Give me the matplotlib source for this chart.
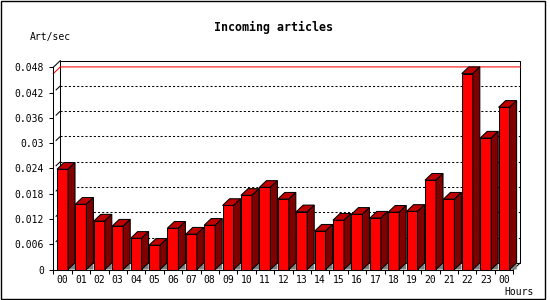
import numpy as np
import matplotlib
matplotlib.use("Agg")
import matplotlib.pyplot as plt
from matplotlib.patches import Polygon, Rectangle

# data
hours = ["00", "01", "02", "03", "04", "05", "06", "07", "08", "09", "10", "11",
         "12", "13", "14", "15", "16", "17", "18", "19", "20", "21", "22", "23", "00"]
rate = [0.0238, 0.0155, 0.0115, 0.0103, 0.0074, 0.00575, 0.0098, 0.0084, 0.0105,
        0.0152, 0.0176, 0.0195, 0.0167, 0.0137, 0.0091, 0.0117, 0.0131, 0.0122,
        0.0136, 0.0138, 0.0212, 0.0167, 0.0465, 0.0312, 0.0385]
yticks = [0, 0.006, 0.012, 0.018, 0.024, 0.03, 0.036, 0.042, 0.048]
ytick_labels = ["0", "0.006", "0.012", "0.018", "0.024", "0.03", "0.036", "0.042", "0.048"]

plt.rcParams["font.family"] = ["DejaVu Sans Mono"]
LW = 0.75
FRONT, TOP, SIDE, FLOOR = "#ff0000", "#c00000", "#800000", "#808080"

W, H = 550, 300
fig = plt.figure(figsize=(W / 100, H / 100), dpi=100)
# front axis box in pixels: x 53.3..513.3, y 269.5 (0) .. 67.3 (0.048)
ax = fig.add_axes([53.3 / W, (H - 269.5) / H, 460 / W, (269.5 - 67.3) / H])

x = np.arange(len(hours))
x0, x1 = -0.5, len(hours) - 0.5
ymax = yticks[-1]
ax.set_xlim(x0, x1)
ax.set_ylim(0, ymax)

# depth of the 3d effect (7 px across, 6.7 px up)
dx = 7 / 18.4
dy = 6.7 / ((269.5 - 67.3) / ymax)
bw = 0.6

# back wall
ax.add_patch(Rectangle((x0 + dx, dy), x1 - x0, ymax, facecolor="white",
                       edgecolor="black", lw=LW, clip_on=False, zorder=0))
ax.plot([x0, x0 + dx], [ymax, ymax + dy], color="black", lw=LW, clip_on=False, zorder=1)
ax.plot([x1, x1 + dx], [0, dy], color="black", lw=LW, clip_on=False, zorder=1)

for v in yticks[1:-1]:
    ax.plot([x0 + dx, x1 + dx], [v + dy, v + dy], color="black", lw=LW,
            ls=(0, (2, 2)), clip_on=False, zorder=1)
    ax.plot([x0 + dx * 0.4, x0 + dx], [v + dy * 0.4, v + dy], color="black",
            lw=LW, clip_on=False, zorder=1)

# max line
vmax = max(rate)
ax.plot([x0, x0 + dx, x1 + dx], [vmax, vmax + dy, vmax + dy], color="red",
        lw=LW, clip_on=False, zorder=1)

# bars
ax.bar(x, rate, width=bw, color=FRONT, edgecolor="black", lw=LW, zorder=3)
for xi, v in zip(x, rate):
    l, r = xi - bw / 2, xi + bw / 2
    ax.add_patch(Polygon([(l, v), (l + dx, v + dy), (r + dx, v + dy), (r, v)],
                         facecolor=TOP, edgecolor="black", lw=LW, zorder=3, clip_on=False))
    ax.add_patch(Polygon([(r, 0), (r, v), (r + dx, v + dy), (r + dx, dy)],
                         facecolor=SIDE, edgecolor="black", lw=LW, zorder=3, clip_on=False))
    ax.add_patch(Polygon([(r, 0), (r + dx, dy), (r + dx, 0)],
                         facecolor=FLOOR, edgecolor="none", zorder=2, clip_on=False))

# axes styling
for s in ["top", "right"]:
    ax.spines[s].set_visible(False)
for s in ["left", "bottom"]:
    ax.spines[s].set_linewidth(LW)
    ax.spines[s].set_zorder(4)
ax.patch.set_visible(False)

ax.set_yticks(yticks)
ax.set_yticklabels(ytick_labels)
ax.tick_params(axis="y", direction="out", length=3, width=LW, pad=3.6, labelsize=7)
ax.set_xticks(x)
ax.set_xticklabels(hours)
ax.set_xticks(np.arange(x0, x1 + 0.01, 1), minor=True)
ax.tick_params(axis="x", which="major", length=0, pad=4, labelsize=7)
ax.tick_params(axis="x", which="minor", direction="out", length=3, width=LW)

fig.text(273.4 / W, 1 - 27 / H, "Incoming articles", ha="center", va="center",
         fontsize=8.4, fontweight="bold")
fig.text(50 / W, 1 - 37 / H, "Art/sec", ha="center", va="center", fontsize=7)
fig.text(519 / W, 1 - 292 / H, "Hours", ha="center", va="center", fontsize=7)

# outer frame
fig.add_artist(Rectangle((0.5 / W, 1.5 / H), 544.5 / W, 298 / H, transform=fig.transFigure,
                         fill=False, edgecolor="black", lw=1.0))

fig.savefig("out.png", dpi=100)
